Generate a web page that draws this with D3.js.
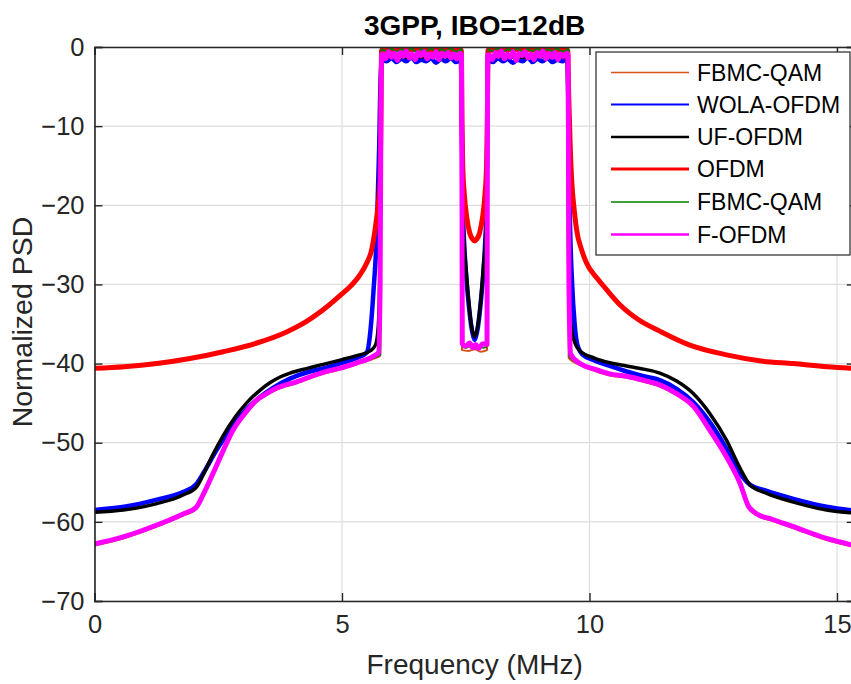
<!DOCTYPE html>
<html><head><meta charset="utf-8">
<script src="https://cdn.jsdelivr.net/npm/d3@7"></script>
<style>body{margin:0;background:#fff}svg{display:block}</style>
</head><body><svg id="c" width="851" height="684"></svg>
<script>
// ---------------- data (frequency MHz, normalized PSD dB) ----------------
const titleText = "3GPP, IBO=12dB";
const xLabelText = "Frequency (MHz)";
const yLabelText = "Normalized PSD";
const xTicks = [0, 5, 10, 15];
const yTicks = [0, -10, -20, -30, -40, -50, -60, -70];
const xDomain = [0, 15.36];
const yDomain = [-70, 0];

const legendLabels = ["FBMC-QAM", "WOLA-OFDM", "UF-OFDM", "OFDM", "FBMC-QAM", "F-OFDM"];
const seriesColors = ["#D95319", "#0000FF", "#000000", "#FF0000", "#008000", "#FF00FF"];

const fbmcOrange = [[0,-63.0],[0.58,-62.1],[1.26,-60.6],[1.79,-59.2],[2.05,-58.4],[2.2,-56.7],[2.4,-54.0],[2.6,-51.2],[2.8,-48.6],[3.05,-46.4],[3.28,-44.8],[3.5,-43.9],[3.68,-43.3],[4.08,-42.5],[4.62,-41.3],[5.0,-40.7],[5.3,-40.1],[5.63,-39.4],[5.77,-39.0],[5.78,-20],[5.79,-0.6],[6.3,-0.5],[6.9,-0.6],[7.41,-0.5],[7.42,-20],[7.425,-38.3],[7.55,-38.4],[7.68,-38.2],[7.8,-38.5],[7.93,-38.3],[7.935,-20],[7.945,-0.6],[8.5,-0.5],[9.1,-0.6],[9.57,-0.5],[9.575,-20],[9.58,-39.3],[9.81,-40.2],[10.1,-40.9],[10.41,-41.5],[10.75,-41.8],[11.09,-42.3],[11.42,-42.9],[11.76,-44.0],[12.1,-45.6],[12.43,-48.6],[12.77,-52.0],[13.04,-55.3],[13.21,-58.3],[13.36,-59.1],[13.7,-59.9],[14.12,-60.8],[14.79,-62.3],[15.36,-63.2]];

const wolaOfdm = [[0,-58.5],[0.6,-58.1],[1.26,-57.2],[1.8,-56.2],[2.06,-55.2],[2.25,-53.3],[2.45,-51.1],[2.65,-49.2],[2.9,-47.0],[3.1,-45.6],[3.35,-44.2],[3.6,-43.1],[3.95,-41.9],[4.3,-41.1],[4.62,-40.6],[5.0,-39.9],[5.3,-39.3],[5.5,-38.6],[5.58,-35.5],[5.64,-30.5],[5.7,-24],[5.75,-13],[5.78,-4],[5.81,-1.6],
[5.9,-1.8],[6.0,-1.4],[6.1,-1.9],[6.2,-1.5],[6.3,-1.8],[6.4,-1.3],[6.5,-1.9],[6.6,-1.6],[6.7,-1.8],[6.8,-1.4],[6.9,-2.0],[7.0,-1.5],[7.1,-1.8],[7.2,-1.4],[7.3,-1.9],[7.4,-1.6],
[7.425,-12],[7.44,-20],[7.47,-25],[7.51,-29],[7.56,-32.5],[7.61,-35.2],[7.65,-36.5],[7.68,-37.0],[7.71,-36.5],[7.75,-35.2],[7.8,-32.5],[7.85,-29],[7.89,-25],[7.92,-20],[7.935,-12],[7.95,-1.6],
[8.05,-1.9],[8.15,-1.4],[8.25,-1.8],[8.35,-1.5],[8.45,-2.0],[8.55,-1.6],[8.65,-1.8],[8.75,-1.3],[8.85,-1.9],[8.95,-1.5],[9.05,-1.8],[9.15,-1.4],[9.25,-1.9],[9.35,-1.6],[9.45,-1.8],[9.55,-1.5],
[9.58,-10],[9.6,-20],[9.65,-30],[9.7,-35],[9.75,-37.5],[9.85,-38.8],[10.1,-39.6],[10.41,-40.3],[10.75,-41.0],[11.09,-41.6],[11.42,-42.1],[11.76,-43.2],[12.1,-44.9],[12.43,-47.4],[12.77,-50.8],[13.04,-53.9],[13.24,-55.3],[13.58,-56.1],[14.12,-57.1],[14.79,-58.1],[15.36,-58.6]];

const ufOfdm = [[0,-58.8],[0.58,-58.5],[1.26,-57.7],[1.79,-56.6],[2.06,-55.6],[2.2,-54.0],[2.4,-51.4],[2.6,-49.1],[2.85,-46.7],[3.07,-45.0],[3.3,-43.6],[3.55,-42.4],[3.75,-41.7],[3.95,-41.2],[4.3,-40.6],[4.62,-40.1],[5.0,-39.5],[5.3,-39.0],[5.57,-38.4],[5.68,-37.6],[5.73,-35.5],[5.76,-30],[5.78,-18],[5.79,-3],[5.81,-1.2],[6.3,-1.3],[6.9,-1.2],[7.4,-1.3],
[7.42,-5],[7.435,-18],[7.46,-24],[7.5,-27.5],[7.55,-31.5],[7.6,-34.5],[7.64,-36.0],[7.68,-36.6],[7.72,-36.0],[7.76,-34.5],[7.81,-31.5],[7.86,-27.5],[7.9,-24],[7.925,-18],[7.94,-5],[7.96,-1.2],[8.5,-1.3],[9.1,-1.2],[9.55,-1.3],
[9.565,-10],[9.575,-25],[9.6,-32.5],[9.64,-35.8],[9.7,-37.3],[9.81,-38.4],[10.1,-39.3],[10.41,-39.9],[10.75,-40.3],[11.09,-40.7],[11.42,-41.2],[11.76,-42.2],[12.1,-43.8],[12.43,-46.3],[12.77,-49.7],[13.04,-53.2],[13.24,-55.3],[13.58,-56.4],[14.12,-57.5],[14.79,-58.5],[15.36,-58.9]];

const ofdm = [[0,-40.6],[0.6,-40.4],[1.26,-40.0],[1.9,-39.4],[2.6,-38.5],[3.28,-37.4],[3.88,-36.0],[4.3,-34.6],[4.74,-32.6],[5.0,-31.2],[5.16,-30.3],[5.35,-28.9],[5.5,-27.3],[5.6,-25.6],[5.67,-23.0],[5.72,-20.5],[5.77,-16.8],[5.785,-10],[5.8,-0.4],[6.3,-0.3],[6.9,-0.4],[7.41,-0.4],
[7.425,-10],[7.44,-15],[7.47,-18.5],[7.52,-21.5],[7.58,-23.5],[7.64,-24.3],[7.68,-24.5],[7.72,-24.3],[7.78,-23.5],[7.84,-21.5],[7.89,-18.5],[7.92,-15],[7.935,-10],[7.95,-0.4],[8.5,-0.3],[9.1,-0.4],[9.56,-0.4],
[9.58,-6],[9.61,-12.5],[9.64,-16.8],[9.69,-20.5],[9.74,-23.1],[9.84,-25.6],[9.94,-27.3],[10.15,-29.2],[10.35,-30.7],[10.62,-32.6],[11.0,-34.5],[11.42,-35.9],[12.0,-37.6],[12.77,-38.9],[13.5,-39.7],[14.12,-40.0],[14.8,-40.4],[15.36,-40.6]];

const fbmcGreen = [[0,-62.9],[0.58,-62.0],[1.26,-60.5],[1.79,-59.1],[2.05,-58.3],[2.2,-56.6],[2.4,-53.9],[2.6,-51.1],[2.8,-48.5],[3.05,-46.3],[3.28,-44.7],[3.5,-43.8],[3.68,-43.2],[4.08,-42.4],[4.62,-41.2],[5.0,-40.6],[5.3,-40.0],[5.63,-39.3],[5.775,-38.9],[5.78,-20],[5.785,-0.3],
[5.9,-0.5],[6.0,-0.2],[6.1,-0.6],[6.2,-0.3],[6.3,-0.5],[6.4,-0.2],[6.5,-0.6],[6.6,-0.3],[6.7,-0.5],[6.8,-0.2],[6.9,-0.6],[7.0,-0.3],[7.1,-0.5],[7.2,-0.2],[7.3,-0.6],[7.415,-0.3],
[7.42,-20],[7.425,-37.8],[7.5,-38.0],[7.6,-37.8],[7.68,-38.1],[7.76,-37.8],[7.86,-38.0],[7.935,-37.8],[7.94,-20],[7.945,-0.3],
[8.05,-0.5],[8.15,-0.2],[8.25,-0.6],[8.35,-0.3],[8.45,-0.5],[8.55,-0.2],[8.65,-0.6],[8.75,-0.3],[8.85,-0.5],[8.95,-0.2],[9.05,-0.6],[9.15,-0.3],[9.25,-0.5],[9.35,-0.2],[9.45,-0.6],[9.575,-0.3],
[9.58,-20],[9.585,-39.0],[9.81,-40.1],[10.1,-40.8],[10.41,-41.4],[10.75,-41.7],[11.09,-42.2],[11.42,-42.8],[11.76,-43.9],[12.1,-45.5],[12.43,-48.5],[12.77,-51.9],[13.04,-55.2],[13.21,-58.2],[13.36,-59.0],[13.7,-59.8],[14.12,-60.7],[14.79,-62.2],[15.36,-63.1]];

const fOfdm = [[0,-62.8],[0.58,-61.9],[1.26,-60.4],[1.79,-59.0],[2.05,-58.2],[2.2,-56.5],[2.4,-53.8],[2.6,-51.0],[2.8,-48.4],[3.05,-46.2],[3.28,-44.6],[3.5,-43.7],[3.68,-43.1],[4.08,-42.3],[4.62,-41.1],[5.0,-40.5],[5.3,-39.9],[5.63,-39.1],[5.74,-38.6],[5.77,-30],[5.785,-10],[5.8,-1.0],
[5.82,-0.9],[5.88,-1.5],[5.94,-0.6],[6.0,-1.3],[6.06,-0.8],[6.12,-1.7],[6.18,-0.7],[6.24,-1.2],[6.3,-0.5],[6.36,-1.4],[6.42,-0.9],[6.48,-1.6],[6.54,-0.7],[6.6,-1.1],[6.66,-0.6],[6.72,-1.5],[6.78,-0.9],[6.84,-1.3],[6.9,-0.6],[6.96,-1.6],[7.02,-0.8],[7.08,-1.2],[7.14,-0.7],[7.2,-1.4],[7.26,-0.9],[7.32,-1.5],[7.38,-0.8],[7.415,-1.0],
[7.425,-20],[7.43,-37.5],[7.5,-37.8],[7.58,-37.4],[7.64,-38.0],[7.7,-37.6],[7.76,-38.1],[7.84,-37.5],[7.93,-37.6],[7.935,-20],[7.945,-1.0],
[7.98,-1.0],[8.04,-1.6],[8.1,-0.7],[8.16,-1.2],[8.22,-0.5],[8.28,-1.5],[8.34,-0.9],[8.4,-1.3],[8.46,-0.6],[8.52,-1.7],[8.58,-0.8],[8.64,-1.1],[8.7,-0.6],[8.76,-1.4],[8.82,-0.9],[8.88,-1.6],[8.94,-0.7],[9.0,-1.2],[9.06,-0.5],[9.12,-1.5],[9.18,-0.8],[9.24,-1.3],[9.3,-0.7],[9.36,-1.6],[9.42,-0.9],[9.48,-1.2],[9.54,-0.8],[9.565,-1.0],
[9.575,-10],[9.585,-30],[9.62,-38.8],[9.81,-40.0],[10.1,-40.7],[10.41,-41.3],[10.75,-41.6],[11.09,-42.1],[11.42,-42.7],[11.76,-43.8],[12.1,-45.4],[12.43,-48.4],[12.77,-51.8],[13.04,-55.1],[13.21,-58.0],[13.36,-58.9],[13.7,-59.7],[14.12,-60.6],[14.79,-62.1],[15.36,-63.0]];

const seriesData = [fbmcOrange, wolaOfdm, ufOfdm, ofdm, fbmcGreen, fOfdm];
const seriesWidths = [2, 4.5, 3.5, 5, 2, 5];
const legendWidths = [1.5, 2, 2.5, 3, 1.5, 2.5];

// ---------------- drawing ----------------
const svg = d3.select("#c");
const L = 94.5, R = 854.8, T = 47, B = 601;
const x = d3.scaleLinear().domain(xDomain).range([L, R]);
const y = d3.scaleLinear().domain(yDomain).range([B, T]);
const axisCol = "#262626";
const font = "'Liberation Sans', Arial, Helvetica, sans-serif";

svg.append("defs").append("clipPath").attr("id","clip")
  .append("rect").attr("x",L).attr("y",T).attr("width",R-L).attr("height",B-T);

// grid
const grid = svg.append("g");
grid.selectAll(".gx").data(xTicks).enter().append("line")
  .attr("x1",d=>x(d)).attr("x2",d=>x(d)).attr("y1",T).attr("y2",B)
  .attr("stroke","#dedede").attr("stroke-width",1.2);
grid.selectAll(".gy").data(yTicks).enter().append("line")
  .attr("x1",L).attr("x2",R).attr("y1",d=>y(d)).attr("y2",d=>y(d))
  .attr("stroke","#dedede").attr("stroke-width",1.2);

// series
const line = d3.line().x(d=>x(d[0])).y(d=>y(d[1])).curve(d3.curveMonotoneX);
const plot = svg.append("g").attr("clip-path","url(#clip)");
seriesData.forEach((s,i)=>{
  plot.append("path").attr("d",line(s)).attr("fill","none")
    .attr("stroke",seriesColors[i]).attr("stroke-width",seriesWidths[i])
    .attr("stroke-linejoin","round");
});

// axes
const tickLen = 8;
const gx = svg.append("g").attr("transform",`translate(0,${B})`)
  .call(d3.axisBottom(x).tickValues(xTicks).tickSize(-tickLen).tickPadding(14).tickFormat(d3.format("d")));
const gxt = svg.append("g").attr("transform",`translate(0,${T})`)
  .call(d3.axisTop(x).tickValues(xTicks).tickSize(-tickLen).tickFormat(""));
const gy = svg.append("g").attr("transform",`translate(${L},0)`)
  .call(d3.axisLeft(y).tickValues(yTicks).tickSize(-tickLen).tickPadding(10).tickFormat(d3.format("d")));
const gyr = svg.append("g").attr("transform",`translate(${R},0)`)
  .call(d3.axisRight(y).tickValues(yTicks).tickSize(-tickLen).tickFormat(""));
[gx,gxt,gy,gyr].forEach(g=>{
  g.select(".domain").attr("stroke",axisCol).attr("stroke-width",1.6);
  g.selectAll(".tick line").attr("stroke",axisCol).attr("stroke-width",1.4);
  g.selectAll(".tick text").attr("fill",axisCol).style("font-family",font).style("font-size","25.5px");
});
gx.selectAll(".tick text").attr("dy","0.71em");

// labels
svg.append("text").attr("x",(L+R)/2).attr("y",35).attr("text-anchor","middle")
  .style("font-family",font).style("font-size","28px").style("font-weight","bold").attr("fill","#000")
  .text(titleText);
svg.append("text").attr("x",(L+R)/2).attr("y",674).attr("text-anchor","middle")
  .style("font-family",font).style("font-size","28px").attr("fill",axisCol).text(xLabelText);
svg.append("text").attr("transform",`translate(32,${(T+B)/2 - 2}) rotate(-90)`).attr("text-anchor","middle")
  .style("font-family",font).style("font-size","28.5px").attr("fill",axisCol).text(yLabelText);

// legend
const lg = svg.append("g");
lg.append("rect").attr("x",596).attr("y",52).attr("width",254).attr("height",203)
  .attr("fill","#fff").attr("stroke",axisCol).attr("stroke-width",1.2);
const legY = [72.5, 104.5, 137, 169, 202, 234.5];
legendLabels.forEach((lab,i)=>{
  lg.append("line").attr("x1",611).attr("x2",689).attr("y1",legY[i]).attr("y2",legY[i])
    .attr("stroke",seriesColors[i]).attr("stroke-width",legendWidths[i]);
  lg.append("text").attr("x",697).attr("y",legY[i]).attr("dy","0.36em")
    .style("font-family",font).style("font-size","23px").attr("fill","#000").text(lab);
});
</script></body></html>
